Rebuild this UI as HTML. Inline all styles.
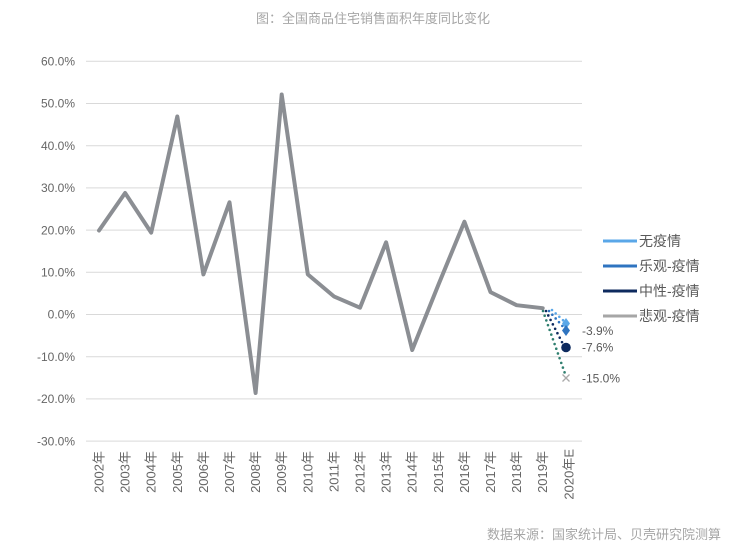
<!DOCTYPE html>
<html><head><meta charset="utf-8"><style>
html,body{margin:0;padding:0;background:#fff;}
svg{display:block;}
text{font-family:"Liberation Sans","Noto Sans CJK SC",sans-serif;}
</style></head><body>
<svg width="750" height="553" viewBox="0 0 750 553" xmlns="http://www.w3.org/2000/svg">
<rect width="750" height="553" fill="#fff"/>
<text x="373" y="23" font-size="13" fill="#a6a6a6" text-anchor="middle">图：全国商品住宅销售面积年度同比变化</text>
<g stroke="#d9d9d9" stroke-width="1">
<line x1="86" y1="61.3" x2="582" y2="61.3"/>
<line x1="86" y1="103.5" x2="582" y2="103.5"/>
<line x1="86" y1="145.7" x2="582" y2="145.7"/>
<line x1="86" y1="187.9" x2="582" y2="187.9"/>
<line x1="86" y1="230.1" x2="582" y2="230.1"/>
<line x1="86" y1="272.3" x2="582" y2="272.3"/>
<line x1="86" y1="314.5" x2="582" y2="314.5"/>
<line x1="86" y1="356.7" x2="582" y2="356.7"/>
<line x1="86" y1="398.9" x2="582" y2="398.9"/>
<line x1="86" y1="441.1" x2="582" y2="441.1"/>
</g>
<g font-size="12" fill="#666666" text-anchor="end">
<text x="75" y="65.5">60.0%</text>
<text x="75" y="107.7">50.0%</text>
<text x="75" y="149.9">40.0%</text>
<text x="75" y="192.1">30.0%</text>
<text x="75" y="234.3">20.0%</text>
<text x="75" y="276.5">10.0%</text>
<text x="75" y="318.7">0.0%</text>
<text x="75" y="360.9">-10.0%</text>
<text x="75" y="403.1">-20.0%</text>
<text x="75" y="445.3">-30.0%</text>
</g>
<g font-size="13" fill="#666666" text-anchor="end">
<text transform="translate(103.5,451) rotate(-90)">2002年</text>
<text transform="translate(129.6,451) rotate(-90)">2003年</text>
<text transform="translate(155.7,451) rotate(-90)">2004年</text>
<text transform="translate(181.8,451) rotate(-90)">2005年</text>
<text transform="translate(207.9,451) rotate(-90)">2006年</text>
<text transform="translate(234.0,451) rotate(-90)">2007年</text>
<text transform="translate(260.1,451) rotate(-90)">2008年</text>
<text transform="translate(286.2,451) rotate(-90)">2009年</text>
<text transform="translate(312.3,451) rotate(-90)">2010年</text>
<text transform="translate(338.4,451) rotate(-90)">2011年</text>
<text transform="translate(364.5,451) rotate(-90)">2012年</text>
<text transform="translate(390.6,451) rotate(-90)">2013年</text>
<text transform="translate(416.7,451) rotate(-90)">2014年</text>
<text transform="translate(442.8,451) rotate(-90)">2015年</text>
<text transform="translate(468.9,451) rotate(-90)">2016年</text>
<text transform="translate(495.0,451) rotate(-90)">2017年</text>
<text transform="translate(521.1,451) rotate(-90)">2018年</text>
<text transform="translate(547.2,451) rotate(-90)">2019年</text>
<text transform="translate(573.3,449) rotate(-90)">2020年E</text>
</g>
<polyline fill="none" stroke="#8b8e93" stroke-width="4" stroke-linejoin="round" stroke-linecap="round"
points="99,230.5 125.1,193 151.2,232.6 177.3,116.5 203.4,274.4 229.5,202.3 255.6,393 281.7,94.5 307.8,274.4 333.9,296.4 360,307.7 386.1,242.3 412.2,350 438.3,285 464.4,221.7 490.5,292.1 516.6,305.2 542.7,308.2"/>
<g fill="none" stroke-width="2.6" stroke-linecap="round" stroke-dasharray="0 5">
<line x1="543" y1="311" x2="565.5" y2="375" stroke="#2f7f6f"/>
<line x1="546" y1="311" x2="564" y2="346" stroke="#0d2a5e"/>
<line x1="549" y1="311" x2="566" y2="330" stroke="#2f74c0"/>
<line x1="552" y1="310" x2="566" y2="323" stroke="#5aa7e8"/>
</g>
<polygon points="566,318 570,323.5 566,329 562,323.5" fill="#5aa7e8"/>
<polygon points="566,325 570,330.5 566,336 562,330.5" fill="#2f74c0"/>
<circle cx="566" cy="347.5" r="4.8" fill="#0d2a5e"/>
<g stroke="#aaaaaa" stroke-width="1.3">
<line x1="562.5" y1="374.5" x2="569.5" y2="381.5"/>
<line x1="569.5" y1="374.5" x2="562.5" y2="381.5"/>
</g>
<g font-size="12" fill="#595959">
<text x="582" y="335">-3.9%</text>
<text x="582" y="351.5">-7.6%</text>
<text x="582" y="382.5">-15.0%</text>
</g>
<g stroke-width="3">
<line x1="603" y1="241" x2="637" y2="241" stroke="#5aa7e8"/>
<line x1="603" y1="266" x2="637" y2="266" stroke="#2f74c0"/>
<line x1="603" y1="291" x2="637" y2="291" stroke="#0d2a5e"/>
<line x1="603" y1="316" x2="637" y2="316" stroke="#a6a6a6"/>
</g>
<g font-size="14" fill="#595959">
<text x="639" y="246">无疫情</text>
<text x="639" y="271">乐观-疫情</text>
<text x="639" y="296">中性-疫情</text>
<text x="639" y="321">悲观-疫情</text>
</g>
<text x="487" y="539" font-size="13" fill="#a6a6a6">数据来源：国家统计局、贝壳研究院测算</text>
</svg>
</body></html>
